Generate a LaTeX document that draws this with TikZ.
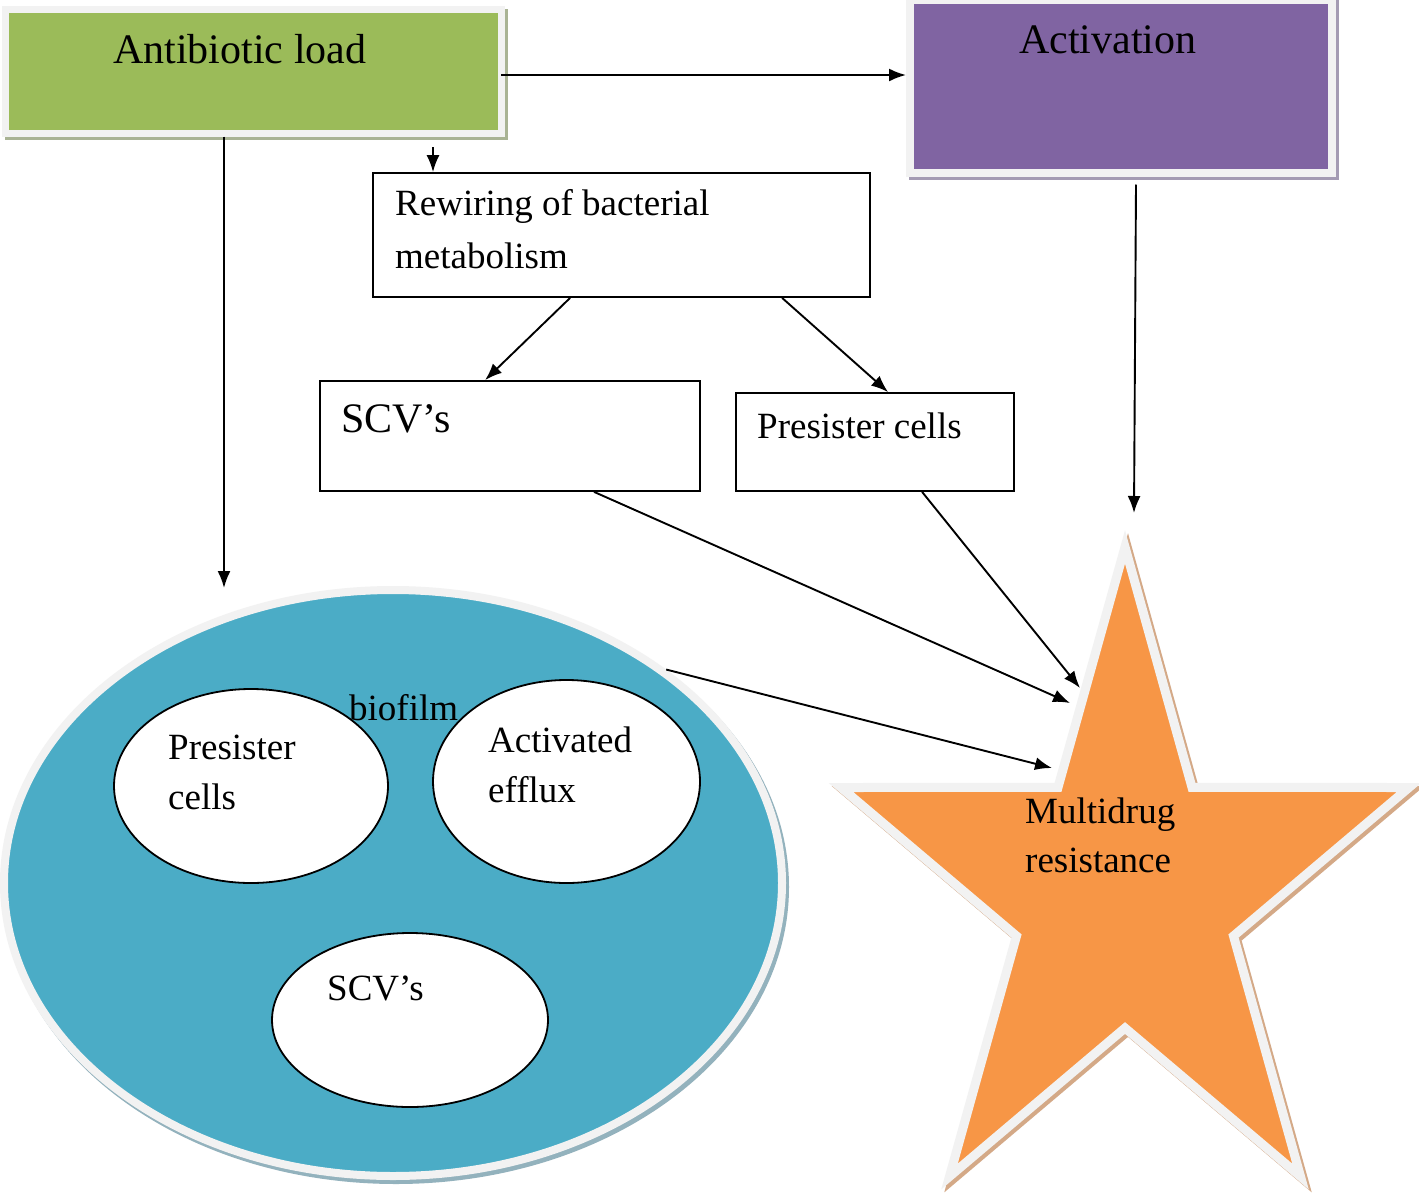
\documentclass[tikz,border=0pt]{standalone}
\usepackage{fontspec}
\setmainfont{Liberation Serif}
\usetikzlibrary{shapes.geometric,arrows.meta,calc}
\definecolor{cgreen}{HTML}{9BBB59}
\definecolor{cpurple}{HTML}{8064A2}
\definecolor{cblue}{HTML}{4BACC6}
\definecolor{corange}{HTML}{F79646}
\definecolor{halo}{HTML}{F2F2F2}
\definecolor{gshadow}{HTML}{A9B394}
\definecolor{pshadow}{HTML}{A49BB3}
\definecolor{bshadow}{HTML}{93B2BD}
\definecolor{oshadow}{HTML}{D4A987}
\begin{document}
\begin{tikzpicture}[x=1pt,y=-1pt,
  conn/.style={line width=1.9pt,-{Latex[length=17pt,width=13pt]}},
  bigtxt/.style={inner sep=0pt,anchor=base west,font=\fontsize{42}{50}\selectfont},
  txt/.style={inner sep=0pt,anchor=base west,font=\fontsize{37}{50}\selectfont},
  plainbox/.style={rectangle,draw,line width=1.8pt,fill=white,inner sep=0pt},
  oval/.style={ellipse,draw,line width=1.8pt,fill=white,inner sep=0pt},
  colbox/.style={rectangle,inner sep=0pt,line width=#1},
]
\fill[white] (0,0) rectangle (1419,1194);
\useasboundingbox (0,0) rectangle (1419,1194);

% Antibiotic load box
\node[colbox=7pt,fill=gshadow,draw=gshadow,minimum width=496pt,minimum height=124pt] (greensh) at (256.5,74) {};
\node[colbox=7pt,fill=cgreen,draw=halo,minimum width=496pt,minimum height=124pt] (green) at (253.5,71) {};
\node[bigtxt] (tgreen) at (113,63) {Antibiotic load};

% Activation box
\node[colbox=8pt,fill=pshadow,draw=pshadow,minimum width=422pt,minimum height=173pt] (actsh) at (1124,89) {};
\node[colbox=8pt,fill=cpurple,draw=halo,minimum width=422pt,minimum height=173pt] (act) at (1121,86) {};
\node[bigtxt] (tact) at (1019,53) {Activation};

% Rewiring box
\node[plainbox,minimum width=497pt,minimum height=124pt] (rew) at (621.5,235) {};
\node[txt] (trew1) at (395,215) {Rewiring of bacterial};
\node[txt] (trew2) at (395,268) {metabolism};

% SCV's box
\node[plainbox,minimum width=380pt,minimum height=110pt] (scv) at (510,436) {};
\node[bigtxt] (tscv) at (341,432) {SCV’s};

% Presister cells box
\node[plainbox,minimum width=278pt,minimum height=98pt] (pres) at (875,442) {};
\node[txt] (tpres) at (757,438) {Presister cells};

% Biofilm
\node[ellipse,inner sep=0pt,line width=8pt,fill=bshadow,draw=bshadow,minimum width=778pt,minimum height=586pt] (biosh) at (396,887) {};
\node[ellipse,inner sep=0pt,line width=8pt,fill=cblue,draw=halo,minimum width=778pt,minimum height=586pt] (bio) at (393,883) {};
\node[oval,minimum width=274pt,minimum height=194pt] (bpres) at (251,786) {};
\node[oval,minimum width=267pt,minimum height=203pt] (beff) at (566.5,781.5) {};
\node[oval,minimum width=276pt,minimum height=174pt] (bscv) at (410,1020) {};
\node[txt] (tbpres1) at (168,759) {Presister};
\node[txt] (tbpres2) at (168,809) {cells};
\node[txt] (tbeff1) at (488,752) {Activated};
\node[txt] (tbeff2) at (488,802) {efflux};
\node[txt] (tbscv) at (327,1000) {SCV’s};
\node[txt] (tbio) at (349,720) {biofilm};

% Star
\path[fill=oshadow,draw=oshadow,line width=9pt,miter limit=10,shift={(3,3)}]
  (1125,547) -- (1192,787.4) -- (1409,787.5) -- (1233.5,936) -- (1300.5,1176.5)
  -- (1125,1028) -- (949.5,1176.5) -- (1016.5,936) -- (841,787.5) -- (1058,787.4) -- cycle;
\path[fill=corange,draw=halo,line width=9pt,miter limit=10]
  (1125,547) -- (1192,787.4) -- (1409,787.5) -- (1233.5,936) -- (1300.5,1176.5)
  -- (1125,1028) -- (949.5,1176.5) -- (1016.5,936) -- (841,787.5) -- (1058,787.4) -- cycle;
\node[txt] (tmd1) at (1025,823) {Multidrug};
\node[txt] (tmd2) at (1025,872) {resistance};

% connector end points
\coordinate (ga) at ($(green.east)+(-4,4)$);
\coordinate (bfin) at (224,588);
\coordinate (rs) at (433,147);
\coordinate (s1) at (1070,703);
\coordinate (s2) at (1080,688);
\coordinate (s3) at (1052,768);
\coordinate (s4) at (1134,513);

% connectors
\draw[conn] (ga) -- (ga -| act.west);
\draw[conn] (green.south -| bfin) -- (bfin);
\draw[conn] (rs) -- (rs |- rew.north);
\draw[conn] ($(rew.south west)+(198,0)$) -- ($(scv.north west)+(166,0)$);
\draw[conn] ($(rew.south west)+(410,0)$) -- ($(pres.north west)+(153,0)$);
\draw[conn] ($(scv.south west)+(275,0)$) -- (s1);
\draw[conn] ($(pres.south west)+(187,0)$) -- (s2);
\draw[conn] (bio.38) -- (s3);
\draw[conn] ($(act.south west)+(230,8)$) -- (s4);
\end{tikzpicture}
\end{document}
